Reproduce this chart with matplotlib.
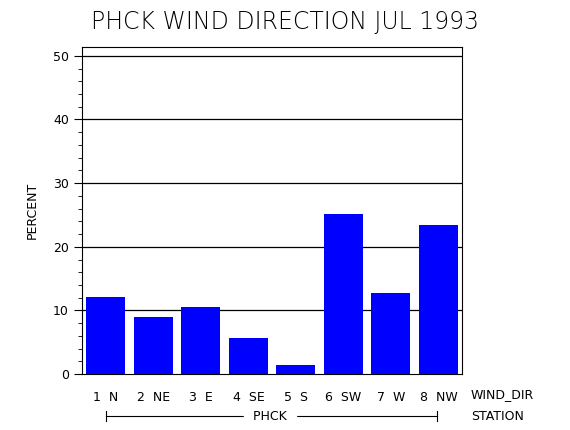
import matplotlib
matplotlib.use("Agg")
import matplotlib.pyplot as plt
from matplotlib.ticker import MultipleLocator

labels = ["1  N", "2  NE", "3  E", "4  SE", "5  S", "6  SW", "7  W", "8  NW"]
percent = [12.1, 9.0, 10.5, 5.7, 1.4, 25.2, 12.7, 23.4]

fig = plt.figure(figsize=(5.7, 4.3), dpi=100)
ax = fig.add_axes([0.144, 0.130, 0.667, 0.761])

x = range(len(percent))
ax.bar(x, percent, width=0.82, color="#0000ff", zorder=3)
for y in [10, 20, 30, 40, 50]:
    ax.axhline(y, color="black", linewidth=0.9, zorder=2)

ax.set_xlim(-0.5, 7.5)
ax.set_ylim(0, 51.4)
ax.set_yticks([0, 10, 20, 30, 40, 50])
ax.yaxis.set_minor_locator(MultipleLocator(2))
ax.tick_params(axis="y", which="major", length=6, labelsize=9)
ax.tick_params(axis="y", which="minor", length=3)
ax.set_xticks(list(x))
ax.set_xticklabels(labels, fontsize=9)
ax.tick_params(axis="x", length=0, pad=12)
ax.set_ylabel("PERCENT", fontsize=9, labelpad=10)

fig.text(0.5, 0.95, "PHCK WIND DIRECTION JUL 1993", ha="center", va="center",
         fontsize=17, fontweight="light")
fig.text(0.826, 0.082, "WIND_DIR", ha="left", va="center", fontsize=9)
fig.text(0.826, 0.032, "STATION", ha="left", va="center", fontsize=9)

# station bracket
y0 = 0.032
fig.add_artist(plt.Line2D([106/570, 437/570], [y0, y0], color="black", lw=0.8))
for xe in [106/570, 437/570]:
    fig.add_artist(plt.Line2D([xe, xe], [y0 - 0.012, y0 + 0.012], color="black", lw=0.8))
fig.text(270/570, y0, " PHCK ", ha="center", va="center", fontsize=9, backgroundcolor="white")

fig.savefig("out.png", dpi=100)
